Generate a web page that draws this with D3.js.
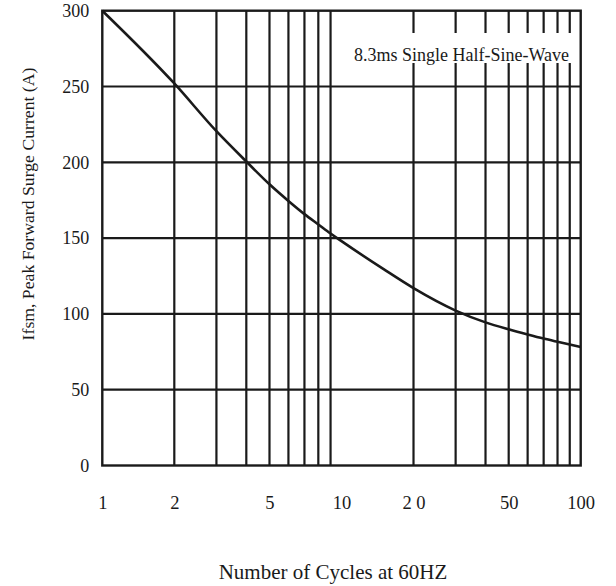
<!DOCTYPE html>
<html>
<head>
<meta charset="utf-8">
<script src="https://cdn.jsdelivr.net/npm/d3@7"></script>
<style>
  html, body { margin: 0; padding: 0; background: #fff; }
  svg { display: block; }
  text { font-family: "Liberation Serif", "Times New Roman", serif; fill: #1a1a1a; }
</style>
</head>
<body>
<svg id="chart" width="616" height="586"></svg>
<script>
// ---- data ----
const cycles  = [1, 2, 3, 4, 5, 6, 7, 8, 9, 10, 15, 20, 30, 40, 50, 60, 70, 80, 90, 100];
const current = [300, 252, 220.5, 200.5, 185.5, 174.5, 165.8, 159, 153, 148, 129.5, 117, 102.2, 94.4, 89.8, 86.4, 83.7, 81.6, 79.8, 78.2];
const xTickValues = [1, 2, 5, 10, 20, 50, 100];
const xTickLabels = ["1", "2", "5", "10", "2 0", "50", "100"];
const yTickValues = [0, 50, 100, 150, 200, 250, 300];
const xGridValues = [2, 3, 4, 5, 6, 7, 8, 9, 20, 30, 40, 50, 60, 70, 80, 90];
const yGridValues = [50, 100, 150, 200, 250];
const xTitle = "Number of Cycles at 60HZ";
const yTitle = "Ifsm, Peak Forward Surge Current (A)";
const note = "8.3ms Single Half-Sine-Wave";

// ---- layout ----
const plot = { left: 102.3, right: 580.7, top: 10.7, bottom: 465.5 };
const ink = "#1a1a1a";

const svg = d3.select("#chart");
const x = d3.scaleLog().domain([1, 100]).range([plot.left, plot.right]);
const y = d3.scaleLinear().domain([0, 300]).range([plot.bottom, plot.top]);

// grid
const g = svg.append("g");
g.selectAll("line.vx").data(xGridValues).join("line")
  .attr("class", "vx")
  .attr("x1", d => x(d)).attr("x2", d => x(d))
  .attr("y1", plot.top).attr("y2", plot.bottom)
  .attr("stroke", ink).attr("stroke-width", 2.2);
g.selectAll("line.hy").data(yGridValues).join("line")
  .attr("class", "hy")
  .attr("x1", plot.left).attr("x2", plot.right)
  .attr("y1", d => y(d)).attr("y2", d => y(d))
  .attr("stroke", ink).attr("stroke-width", 2.2);

// annotation box (white background over grid)
const noteG = svg.append("g");
noteG.append("rect")
  .attr("x", 347).attr("y", 33).attr("width", 224).attr("height", 30)
  .attr("fill", "#fff");
noteG.append("text")
  .attr("x", 461.5).attr("y", 61)
  .attr("text-anchor", "middle")
  .attr("font-size", 18)
  .text(note);

// frame
svg.append("rect")
  .attr("x", plot.left).attr("y", plot.top)
  .attr("width", plot.right - plot.left).attr("height", plot.bottom - plot.top)
  .attr("fill", "none").attr("stroke", ink).attr("stroke-width", 2.4);

// curve
const pts = cycles.map((c, i) => [c, current[i]]);
svg.append("path")
  .datum(pts)
  .attr("fill", "none").attr("stroke", ink).attr("stroke-width", 2.6)
  .attr("stroke-linejoin", "round")
  .attr("d", d3.line().x(d => x(d[0])).y(d => y(d[1])).curve(d3.curveMonotoneX));

// x axis labels
const xAxis = d3.axisBottom(x).tickValues(xTickValues).tickSize(0).tickPadding(0)
  .tickFormat((d, i) => xTickLabels[i]);
const xa = svg.append("g").attr("transform", `translate(0,${plot.bottom})`).call(xAxis);
xa.select(".domain").remove();
xa.selectAll("text").attr("font-size", 18.5).attr("font-family", null).attr("fill", ink)
  .attr("dy", null).attr("y", 43);

// y axis labels
const yAxis = d3.axisLeft(y).tickValues(yTickValues).tickSize(0).tickPadding(13);
const ya = svg.append("g").attr("transform", `translate(${plot.left},0)`).call(yAxis);
ya.select(".domain").remove();
ya.selectAll("text").attr("font-size", 18).attr("font-family", null).attr("fill", ink);

// titles
svg.append("text")
  .attr("x", 333).attr("y", 579)
  .attr("text-anchor", "middle").attr("font-size", 21)
  .text(xTitle);
svg.append("text")
  .attr("transform", "translate(34,204) rotate(-90)")
  .attr("text-anchor", "middle").attr("font-size", 17.7)
  .text(yTitle);
</script>
</body>
</html>
